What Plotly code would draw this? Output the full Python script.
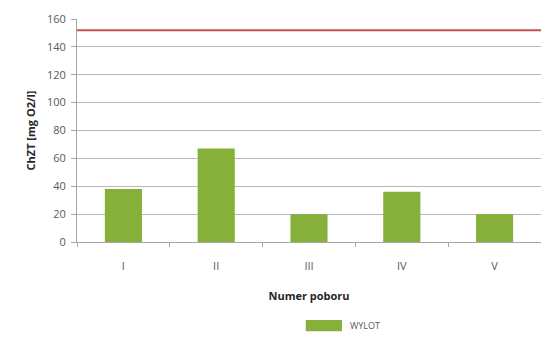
import plotly.graph_objects as go

# Sampling rounds and COD values at the outlet
categories = ["I", "II", "III", "IV", "V"]
wylot = [38, 67, 20, 36, 20]
limit_value = 152
y_ticks = [0, 20, 40, 60, 80, 100, 120, 140, 160]

font_family = "Open Sans, Noto Sans, sans-serif"
text_color = "#595959"
bar_color = "#86b03a"

fig = go.Figure()
fig.add_trace(go.Bar(
    x=categories,
    y=wylot,
    name="WYLOT",
    width=0.4,
    marker=dict(color=bar_color, line=dict(width=0)),
    showlegend=False,
))

# Permissible limit line
fig.add_shape(
    type="line", xref="paper", x0=0, x1=1, yref="y",
    y0=limit_value, y1=limit_value,
    line=dict(color="#c0504d", width=2),
)

# Legend entry drawn as a wide swatch with its label
fig.add_shape(
    type="rect", xref="paper", yref="paper",
    x0=0.493, x1=0.571, y0=-0.35, y1=-0.40,
    fillcolor=bar_color, line=dict(width=0),
)
fig.add_annotation(
    xref="paper", yref="paper", x=0.584, y=-0.375,
    xanchor="left", yanchor="middle", showarrow=False,
    text="WYLOT", font=dict(size=9, color=text_color),
)

fig.update_layout(
    width=541, height=347,
    margin=dict(l=77, r=0, t=19, b=105),
    paper_bgcolor="white", plot_bgcolor="white",
    font=dict(family=font_family, size=11, color=text_color),
    showlegend=False,
    bargap=0.6,
)

fig.update_xaxes(
    type="category",
    showline=True, linecolor="#a6a6a6", linewidth=1,
    ticks="outside", tickson="boundaries", ticklen=4, tickcolor="#a6a6a6",
    showgrid=False,
    ticklabelstandoff=14,
    tickfont=dict(size=11, color=text_color),
    title=dict(text="<b>Numer poboru</b>", font=dict(size=11, color="#262626"), standoff=20),
)
fig.update_yaxes(
    range=[0, 160], tickvals=y_ticks,
    showline=True, linecolor="#a6a6a6", linewidth=1,
    ticks="outside", ticklen=5, tickcolor="#a6a6a6",
    showgrid=True, gridcolor="#b8b8b8", gridwidth=1,
    zeroline=False,
    ticklabelstandoff=3,
    tickfont=dict(size=11, color=text_color),
    title=dict(text="<b>ChZT [mg O2/l]</b>", font=dict(size=11, color="#262626"), standoff=9),
)

fig.write_html("out.html")
